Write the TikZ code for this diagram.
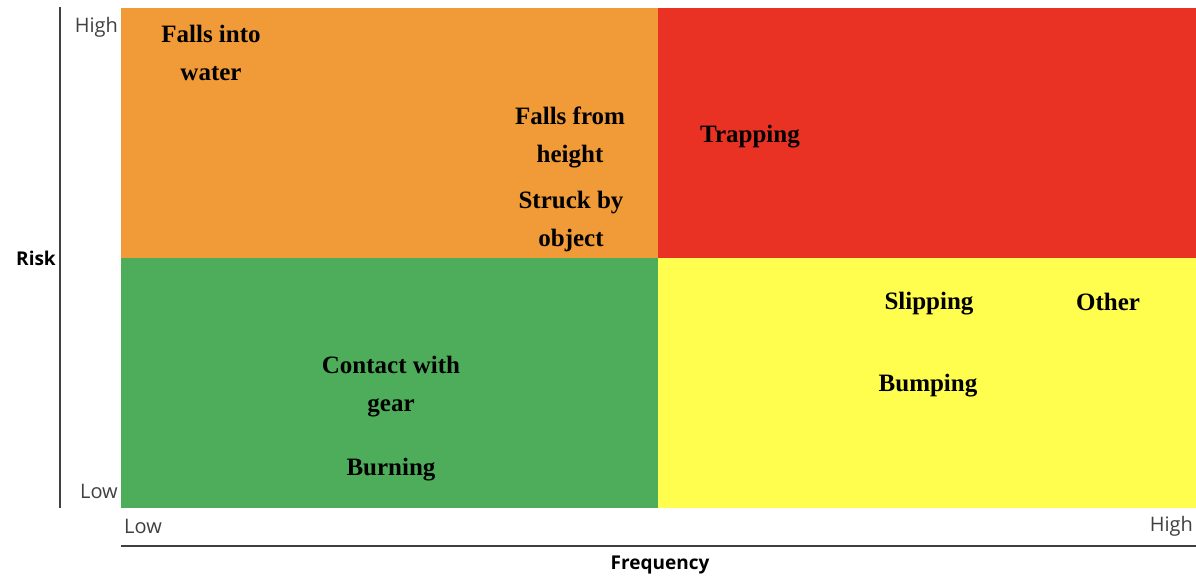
\documentclass[tikz,border=0pt]{standalone}
\usepackage{fontspec}
\setmainfont{Liberation Serif}
\newfontfamily\axisfont{Open Sans}
\definecolor{qorange}{RGB}{240,155,56}
\definecolor{qred}{RGB}{233,50,36}
\definecolor{qgreen}{RGB}{78,173,91}
\definecolor{qyellow}{RGB}{255,253,77}
\definecolor{axisgray}{RGB}{64,64,64}
\begin{document}
\begin{tikzpicture}[x=1pt,y=-1pt,
  quad/.style={draw=none,inner sep=0pt,outer sep=0pt,minimum width=537pt,minimum height=249.5pt,anchor=north west},
  hazard/.style={align=center,inner sep=0pt,font=\bfseries\fontsize{25}{38}\selectfont,text=black},
  ticklab/.style={inner sep=0pt,font=\axisfont\fontsize{20}{24}\selectfont,text=axisgray},
  axlab/.style={inner sep=0pt,font=\axisfont\bfseries\fontsize{19}{23}\selectfont,text=black},
  axline/.style={draw=axisgray,line width=1.8pt}]
\useasboundingbox (0,0) rectangle (1196,579);
% quadrants
\node[quad,fill=qorange] (q1) at (121,8) {};
\node[quad,fill=qred,minimum width=539pt] (q2) at (658,8) {};
\node[quad,fill=qgreen,minimum height=250pt] (q3) at (121,257.5) {};
\node[quad,fill=qyellow,minimum width=539pt,minimum height=250pt] (q4) at (658,257.5) {};
% axes
\coordinate (vtop) at (60,7);
\coordinate (vbot) at (60,508);
\coordinate (hleft) at (121,546);
\coordinate (hright) at (1196,546);
\draw[axline] (vtop) -- (vbot);
\draw[axline] (hleft) -- (hright);
% tick labels
\node[ticklab,anchor=east] (rhigh) at (118,27) {High};
\node[ticklab,anchor=east] (rlow) at (118,491) {Low};
\node[ticklab,anchor=west] (flow) at (124,526) {Low};
\node[ticklab,anchor=east] (fhigh) at (1193,526) {High};
% axis labels
\node[axlab] (risk) at (36,258) {Risk};
\node[axlab] (freq) at (660,565) {Frequency};
% hazards
\node[hazard] (h1) at (211,53) {Falls into\\water};
\node[hazard] (h2) at (570,137) {Falls from\\height};
\node[hazard] (h3) at (571,221) {Struck by\\object};
\node[hazard] (h4) at (750,137) {Trapping};
\node[hazard] (h5) at (391,387) {Contact with\\gear};
\node[hazard] (h6) at (391,470) {Burning};
\node[hazard] (h7) at (929,304) {Slipping};
\node[hazard] (h8) at (1108,302) {Other};
\node[hazard] (h9) at (928,386) {Bumping};
\end{tikzpicture}
\end{document}
